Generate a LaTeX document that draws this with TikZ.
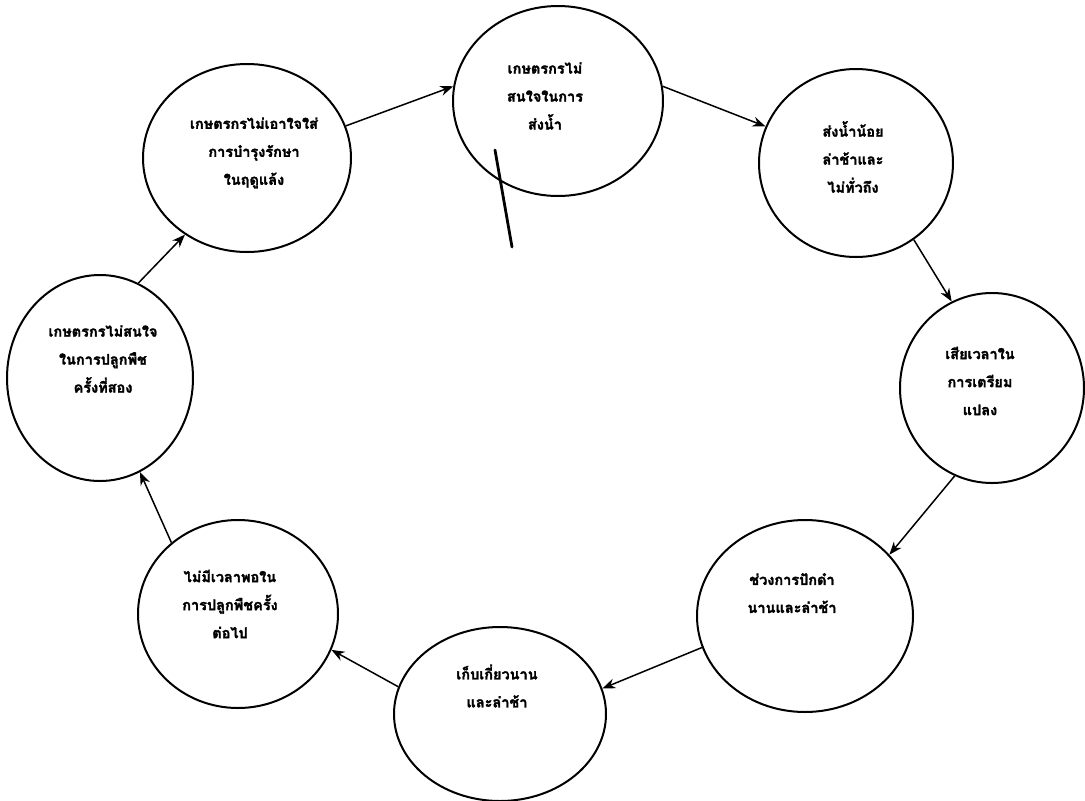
\documentclass[tikz,border=0pt]{standalone}
\usepackage{fontspec}
\newfontfamily\thaifont[Script=Thai, BoldFeatures={FakeBold=2}]{Loma}
\usetikzlibrary{shapes.geometric,arrows.meta}
\tikzset{
  cyc/.style={draw, ellipse, line width=2pt, inner sep=0pt},
  lbl/.style={align=center, inner sep=0pt, font=\thaifont\bfseries\fontsize{14.5}{28}\selectfont},
  flow/.style={line width=1.5pt, -{Stealth[length=13pt,width=10pt]}},
  pen/.style={line width=2.8pt, line cap=round}
}
\begin{document}
\begin{tikzpicture}[x=1pt,y=-1pt]
\useasboundingbox (0,0) rectangle (1085,801);
% circles
\node[cyc, minimum width=208pt, minimum height=188pt] (c1) at (247,158) {};
\node[cyc, minimum width=210pt, minimum height=190pt] (c2) at (558,101) {};
\node[cyc, minimum width=194pt, minimum height=188pt] (c3) at (856,163) {};
\node[cyc, minimum width=184pt, minimum height=190pt] (c4) at (992,388) {};
\node[cyc, minimum width=216pt, minimum height=192pt] (c5) at (805,616) {};
\node[cyc, minimum width=212pt, minimum height=174pt] (c6) at (500,714) {};
\node[cyc, minimum width=200pt, minimum height=188pt] (c7) at (238,614) {};
\node[cyc, minimum width=186pt, minimum height=206pt] (c8) at (100,378) {};
% labels
\node[lbl] (t1) at (254,153) {เกษตรกรไม่เอาใจใส่\\การบำรุงรักษา\\ในฤดูแล้ง};
\node[lbl] (t2) at (545,96) {เกษตรกรไม่\\สนใจในการ\\ส่งน้ำ};
\node[lbl] (t3) at (853,157) {ส่งน้ำน้อย\\ล่าช้าและ\\ไม่ทั่วถึง};
\node[lbl] (t4) at (980,381) {เสียเวลาใน\\การเตรียม\\แปลง};
\node[lbl] (t5) at (792,593) {ช่วงการปักดำ\\นานและล่าช้า};
\node[lbl] (t6) at (497,686) {เก็บเกี่ยวนาน\\และล่าช้า};
\node[lbl] (t7) at (230,604) {ไม่มีเวลาพอใน\\การปลูกพืชครั้ง\\ต่อไป};
\node[lbl] (t8) at (103,359) {เกษตรกรไม่สนใจ\\ในการปลูกพืช\\ครั้งที่สอง};
% connectors
\draw[flow] (c1.18) -- (c2.172);
\draw[flow] (c2.8) -- (c3.158);
\draw[flow] (c3.-53) -- (c4.115);
\draw[flow] (c4.-113) -- (c5.36);
\draw[flow] (c5.197) -- (c6.14);
\draw[flow] (c6.165) -- (c7.-21);
\draw[flow] (c7.133) -- (c8.-67);
\draw[flow] (c8.68) -- (c1.-129);
% pen mark
\coordinate (p1) at (495,150);
\coordinate (p2) at (512,247);
\draw[pen] (p1) -- (p2);
\end{tikzpicture}
\end{document}
